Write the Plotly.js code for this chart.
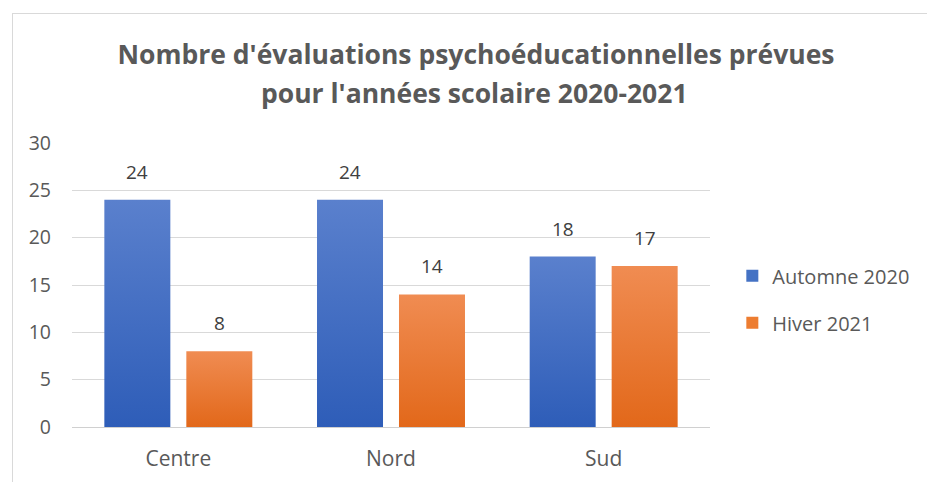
<!DOCTYPE html>
<html><head><meta charset="utf-8">
<script src="https://cdn.plot.ly/plotly-3.0.1.min.js"></script>
<style>
html,body{margin:0;padding:0;background:#fff;}
#frame{position:absolute;left:12px;top:13px;width:940px;height:500px;border-left:1px solid #d9d9d9;border-top:1px solid #d9d9d9;pointer-events:none;}
#chart{position:absolute;left:0;top:0;width:927px;height:482px;}
</style></head>
<body>
<div id="chart"></div>
<div id="frame"></div>
<script>
const categories = ["Centre", "Nord", "Sud"];
const automne2020 = [24, 24, 18];
const hiver2021 = [8, 14, 17];
const seriesNames = ["Automne 2020", "Hiver 2021"];
const yTicks = [0, 5, 10, 15, 20, 25, 30];
const titleLine1 = "Nombre d'évaluations psychoéducationnelles prévues";
const titleLine2 = "pour l'années scolaire 2020-2021";

const font = "'Open Sans', sans-serif";
const grey = "#595959";

const traces = [
  {type: "bar", name: seriesNames[0], x: categories, y: automne2020,
   marker: {color: "#4472c4"}, legendgroup: "a", hoverinfo: "skip"},
  {type: "bar", name: seriesNames[1], x: categories, y: hiver2021,
   marker: {color: "#ed7d31"}, legendgroup: "b", hoverinfo: "skip"}
];

// data labels above each bar, placed through the data axes
const annotations = [];
[automne2020, hiver2021].forEach(function(vals, s){
  vals.forEach(function(v, j){
    annotations.push({x: categories[j], y: v, xref: "x", yref: "y", text: String(v),
      showarrow: false, xshift: s === 0 ? -41 : 41, yshift: 28, yanchor: "middle",
      font: {family: font, size: 19, color: "#404040"}});
  });
});
annotations.push({text: titleLine2, xref: "paper", yref: "paper", x: 0.631, y: 1.176,
  xanchor: "center", yanchor: "middle", showarrow: false,
  font: {family: font, size: 26.5, color: grey, weight: "bold"}});

const layout = {
  width: 927, height: 482,
  margin: {l: 72, r: 217, t: 143, b: 55},
  paper_bgcolor: "#fff", plot_bgcolor: "#fff",
  title: {text: titleLine1,
    font: {family: font, size: 26.5, color: grey, weight: "bold"},
    x: 0.5135, xanchor: "center", y: 0.886, yanchor: "middle"},
  barmode: "group", bargap: 0.229, bargroupgap: 0.195,
  showlegend: true,
  legend: {x: 1.035, xanchor: "left", y: 0.45, yanchor: "middle",
    font: {family: font, size: 20, color: grey}, tracegroupgap: 18},
  annotations: annotations,
  xaxis: {showgrid: false, showline: false, ticks: "", zeroline: false,
    tickfont: {family: font, size: 21, color: grey}, ticklabelstandoff: 17},
  yaxis: {range: [0, 30], tickvals: yTicks, showgrid: true, gridcolor: "#d9d9d9",
    zeroline: true, zerolinecolor: "#d0d0d0", zerolinewidth: 1, showline: false, ticks: "",
    tickfont: {family: font, size: 19.5, color: grey}, ticklabelstandoff: 20}
};

Plotly.newPlot("chart", traces, layout, {displayModeBar: false, staticPlot: true}).then(function(gd){
  const svg = gd.querySelector("svg.main-svg");
  const ns = "http://www.w3.org/2000/svg";
  let defs = svg.querySelector("defs");
  function grad(id, top, bottom){
    const g = document.createElementNS(ns, "linearGradient");
    g.setAttribute("id", id); g.setAttribute("x1","0"); g.setAttribute("y1","0");
    g.setAttribute("x2","0"); g.setAttribute("y2","1");
    [[0, top],[1, bottom]].forEach(function(s){
      const st = document.createElementNS(ns, "stop");
      st.setAttribute("offset", s[0]); st.setAttribute("stop-color", s[1]);
      g.appendChild(st);
    });
    defs.appendChild(g);
  }
  grad("gBlue", "#5a80cd", "#2e5db8");
  grad("gOrange", "#f08c52", "#e2681a");
  const groups = gd.querySelectorAll(".barlayer .trace");
  const ids = ["gBlue", "gOrange"];
  groups.forEach(function(t, i){
    t.querySelectorAll("path").forEach(function(p){
      p.style.fill = "url(#" + ids[i] + ")";
    });
  });
});
</script>
</body></html>
